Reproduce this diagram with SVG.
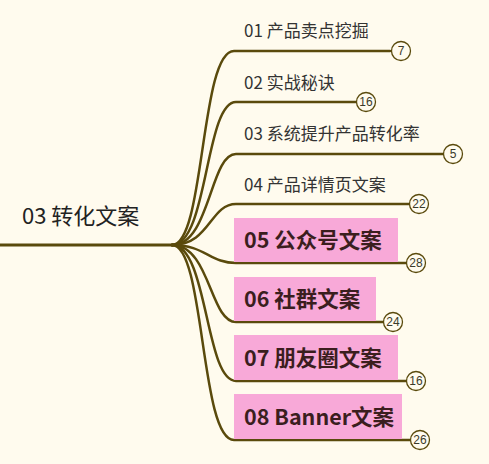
<svg xmlns="http://www.w3.org/2000/svg" width="489" height="464" viewBox="0 0 489 464">
<style>
.bg{fill:#FFFBEE}
.ln{fill:none;stroke:#5A4A0C;stroke-width:2.5;stroke-linecap:round}
.cnt{fill:#FFFBEE;stroke:#5A4A0C;stroke-width:1.3}
.cntt{font-family:"Liberation Sans",Arial,sans-serif;font-size:12px;fill:#3a3a2a;text-anchor:middle}
.lab{font-family:"Noto Sans CJK SC","Noto Sans",sans-serif;font-size:17px;fill:#333}
.big{font-family:"Noto Sans CJK SC","Noto Sans",sans-serif;font-size:21.5px;font-weight:bold;fill:#3B1E1E}
.box{fill:#F8A9D8}
.root{font-family:"Noto Sans CJK SC","Noto Sans",sans-serif;font-size:22px;fill:#222}
</style>
<rect class="bg" x="0" y="0" width="489" height="464"/>
<g id="connectors">
<path class="ln" d="M0 245 L172 245" style="stroke-width:3"/>
<path class="ln" d="M172 245 C205 245 200 51 234 51 L390 51"/>
<path class="ln" d="M172 245 C208 245 205 102 236 102 L356 102"/>
<path class="ln" d="M172 245 C210 245 210 154 236 154 L443 154"/>
<path class="ln" d="M172 245 C210 245 210 204 236 204 L409 204"/>
<path class="ln" d="M172 245 C205 245 210 263 236 263 L406 263"/>
<path class="ln" d="M172 245 C210 245 210 322 236 322 L383 322"/>
<path class="ln" d="M172 245 C208 245 205 381 236 381 L406 381"/>
<path class="ln" d="M172 245 C205 245 200 440 234 440 L410 440"/>
</g>
<g id="root"><text class="root" x="22" y="224">03 转化文案</text></g>
<g id="n1"><text class="lab" x="244" y="37">01 产品卖点挖掘</text><circle class="cnt" cx="401" cy="51" r="9.5"/><text class="cntt" x="401" y="55">7</text></g>
<g id="n2"><text class="lab" x="244" y="89">02 实战秘诀</text><circle class="cnt" cx="366" cy="102" r="9.5"/><text class="cntt" x="366" y="106">16</text></g>
<g id="n3"><text class="lab" x="244" y="140">03 系统提升产品转化率</text><circle class="cnt" cx="453" cy="154" r="9.5"/><text class="cntt" x="453" y="158">5</text></g>
<g id="n4"><text class="lab" x="244" y="191">04 产品详情页文案</text><circle class="cnt" cx="419" cy="204" r="9.5"/><text class="cntt" x="419" y="208">22</text></g>
<g id="n5"><rect class="box" x="234" y="218" width="164" height="44"/><text class="big" x="244" y="248">05 公众号文案</text><circle class="cnt" cx="416" cy="263" r="9.5"/><text class="cntt" x="416" y="267">28</text></g>
<g id="n6"><rect class="box" x="234" y="277" width="142" height="44"/><text class="big" x="244" y="307">06 社群文案</text><circle class="cnt" cx="393" cy="322" r="9.5"/><text class="cntt" x="393" y="326">24</text></g>
<g id="n7"><rect class="box" x="234" y="335" width="164" height="45"/><text class="big" x="244" y="366">07 朋友圈文案</text><circle class="cnt" cx="416" cy="381" r="9.5"/><text class="cntt" x="416" y="385">16</text></g>
<g id="n8"><rect class="box" x="234" y="394" width="168" height="45"/><text class="big" x="244" y="425">08 Banner文案</text><circle class="cnt" cx="420" cy="440" r="9.5"/><text class="cntt" x="420" y="444">26</text></g>
</svg>
